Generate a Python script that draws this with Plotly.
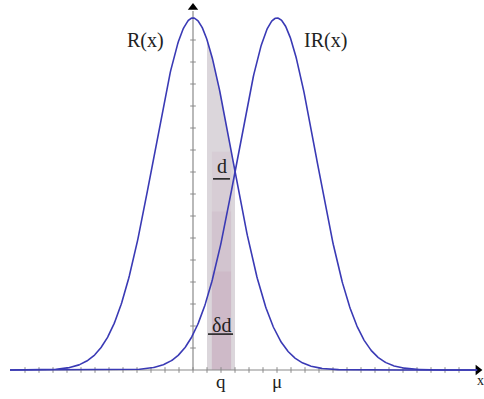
import numpy as np
import plotly.graph_objects as go

# Curve parameters (in tick units)
centers = {"R(x)": 0.0, "IR(x)": 6.0}
sigma = 2.8
q_pos = 2.0
delta = 1.0
x_ticks = list(range(-12, 20))
y_ticks = [k / 16 for k in range(1, 16)]
axis_labels = {"q": q_pos, "μ": centers["IR(x)"]}

blue = "#3a3ab5"
grey = "#8a8a8a"
serif = "Liberation Serif, Times New Roman, serif"

def gauss(x, mu):
    return np.exp(-(x - mu) ** 2 / (2 * sigma ** 2))

xs = np.linspace(-13.07, 20.3, 800)
fig = go.Figure()

# shaded strip of width 2*delta around q, under R(x)
xb = np.linspace(q_pos - delta, q_pos + delta, 60)
fig.add_trace(go.Scatter(x=np.r_[xb, xb[::-1]], y=np.r_[gauss(xb, 0), np.zeros_like(xb)],
                         fill="toself", fillcolor="#dbd6db", line=dict(width=0),
                         mode="lines", hoverinfo="skip"))
# soft mauve tint toward the bottom of the strip
xc = [q_pos - 0.65, q_pos + 0.72, q_pos + 0.72, q_pos - 0.65]
for top, alpha in [(0.62, 0.10), (0.45, 0.12), (0.28, 0.14)]:
    fig.add_trace(go.Scatter(x=xc, y=[top, top, 0, 0],
                             fill="toself", fillcolor=f"rgba(185,130,165,{alpha})",
                             line=dict(width=0), mode="lines", hoverinfo="skip"))

# axes lines
fig.add_trace(go.Scatter(x=[-13.07, 20.1], y=[0, 0], mode="lines",
                         line=dict(color=grey, width=1.2), hoverinfo="skip"))
fig.add_trace(go.Scatter(x=[0, 0], y=[0, 1.02], mode="lines",
                         line=dict(color=grey, width=1.2), hoverinfo="skip"))

# tick marks
tx, ty = [], []
for t in x_ticks:
    tx += [t, t, None]
    ty += [-0.008, 0.008, None]
for t in y_ticks:
    tx += [-0.2, 0.2, None]
    ty += [t, t, None]
fig.add_trace(go.Scatter(x=tx, y=ty, mode="lines", line=dict(color=grey, width=1),
                         hoverinfo="skip"))

# arrowheads
fig.add_trace(go.Scatter(x=[0], y=[1.03], mode="markers",
                         marker=dict(symbol="triangle-up", size=9, color="black"), hoverinfo="skip"))
fig.add_trace(go.Scatter(x=[20.35], y=[0], mode="markers",
                         marker=dict(symbol="triangle-right", size=9, color="black"), hoverinfo="skip"))

# the two curves
for name, mu in centers.items():
    fig.add_trace(go.Scatter(x=xs, y=gauss(xs, mu), mode="lines", name=name,
                             line=dict(color=blue, width=1.6), hoverinfo="skip"))

# width markers under d and δd
fig.add_trace(go.Scatter(x=[1.43, 2.64, None, 1.07, 2.86], y=[0.543, 0.543, None, 0.102, 0.102],
                         mode="lines", line=dict(color="#222", width=1.6), hoverinfo="skip"))

ann = [
    dict(x=-3.36, y=0.9375, text="R(x)", size=20),
    dict(x=9.43, y=0.9375, text="IR(x)", size=20),
    dict(x=2.05, y=0.58, text="d", size=20),
    dict(x=2.0, y=0.128, text="δd", size=20),
    dict(x=20.5, y=-0.03, text="x", size=14),
]
for lab, xv in axis_labels.items():
    ann.append(dict(x=xv, y=-0.034, text=lab, size=19))
for a in ann:
    fig.add_annotation(x=a["x"], y=a["y"], text=a["text"], showarrow=False,
                       font=dict(family=serif, size=a["size"], color="#222"))

fig.update_layout(
    width=484, height=399, margin=dict(l=0, r=0, t=0, b=0),
    paper_bgcolor="white", plot_bgcolor="white", showlegend=False,
    xaxis=dict(range=[-193 / 14, 291 / 14], visible=False),
    yaxis=dict(range=[-29 / 352, 370 / 352], visible=False),
)
fig.write_html("out.html")
